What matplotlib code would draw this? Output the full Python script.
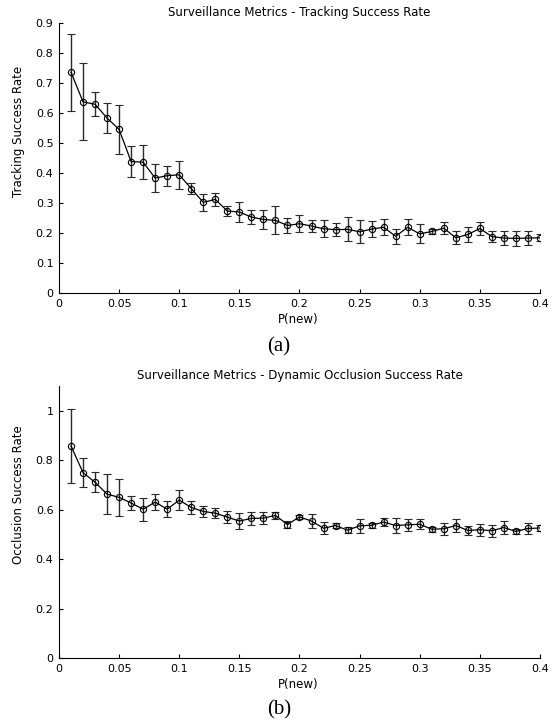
import numpy as np
import matplotlib
matplotlib.use("Agg")
import matplotlib.pyplot as plt

# P(new) values, shared by both panels
p_new = [0.01, 0.02, 0.03, 0.04, 0.05, 0.06, 0.07, 0.08, 0.09, 0.10,
         0.11, 0.12, 0.13, 0.14, 0.15, 0.16, 0.17, 0.18, 0.19, 0.20,
         0.21, 0.22, 0.23, 0.24, 0.25, 0.26, 0.27, 0.28, 0.29, 0.30,
         0.31, 0.32, 0.33, 0.34, 0.35, 0.36, 0.37, 0.38, 0.39, 0.40]

# (a) tracking success rate
track_mean = [0.736, 0.637, 0.629, 0.583, 0.545, 0.438, 0.436, 0.383, 0.391, 0.394,
              0.348, 0.302, 0.312, 0.273, 0.270, 0.253, 0.245, 0.242, 0.225, 0.231,
              0.223, 0.214, 0.211, 0.212, 0.204, 0.213, 0.219, 0.189, 0.219, 0.197,
              0.205, 0.216, 0.184, 0.195, 0.215, 0.188, 0.183, 0.182, 0.183, 0.184]
track_err = [0.128, 0.128, 0.040, 0.049, 0.081, 0.052, 0.057, 0.047, 0.033, 0.046,
             0.019, 0.028, 0.022, 0.016, 0.033, 0.022, 0.031, 0.047, 0.024, 0.028,
             0.020, 0.029, 0.021, 0.040, 0.038, 0.026, 0.026, 0.025, 0.027, 0.032,
             0.007, 0.021, 0.022, 0.024, 0.022, 0.018, 0.024, 0.024, 0.023, 0.011]

# (b) dynamic occlusion success rate
occl_mean = [0.858, 0.750, 0.711, 0.663, 0.650, 0.627, 0.602, 0.631, 0.602, 0.639,
             0.609, 0.593, 0.586, 0.570, 0.554, 0.565, 0.566, 0.577, 0.540, 0.571,
             0.554, 0.525, 0.536, 0.517, 0.535, 0.537, 0.550, 0.536, 0.539, 0.541,
             0.521, 0.523, 0.536, 0.516, 0.519, 0.515, 0.528, 0.512, 0.524, 0.526]
occl_err = [0.150, 0.058, 0.040, 0.082, 0.075, 0.030, 0.047, 0.034, 0.032, 0.040,
            0.028, 0.022, 0.021, 0.025, 0.032, 0.025, 0.025, 0.013, 0.015, 0.008,
            0.030, 0.024, 0.009, 0.012, 0.029, 0.010, 0.015, 0.029, 0.025, 0.020,
            0.011, 0.024, 0.028, 0.020, 0.025, 0.025, 0.027, 0.011, 0.021, 0.011]

x_ticks = [0, 0.05, 0.1, 0.15, 0.2, 0.25, 0.3, 0.35, 0.4]
x_labels = ["0", "0.05", "0.1", "0.15", "0.2", "0.25", "0.3", "0.35", "0.4"]
ya_ticks = [0, 0.1, 0.2, 0.3, 0.4, 0.5, 0.6, 0.7, 0.8, 0.9]
ya_labels = ["0", "0.1", "0.2", "0.3", "0.4", "0.5", "0.6", "0.7", "0.8", "0.9"]
yb_ticks = [0, 0.2, 0.4, 0.6, 0.8, 1.0]
yb_labels = ["0", "0.2", "0.4", "0.6", "0.8", "1"]

plt.rcParams['font.family'] = ['DejaVu Sans']

fig = plt.figure(figsize=(5.58, 7.25), dpi=100)
ax1 = fig.add_axes([0.1057, 0.5959, 0.862, 0.3724])
ax2 = fig.add_axes([0.1057, 0.0924, 0.862, 0.3750])


def panel(ax, mean, err, ylim, yt, yl, title, ylabel):
    ax.errorbar(p_new, mean, yerr=err, color='black', ecolor='#2a2a2a',
                elinewidth=1.0, capsize=3.2, capthick=1.0, linewidth=0.9,
                marker='o', markersize=4.5, markerfacecolor='none',
                markeredgecolor='black', markeredgewidth=0.8)
    ax.set_xlim(0, 0.4)
    ax.set_ylim(*ylim)
    ax.set_xticks(x_ticks)
    ax.set_xticklabels(x_labels)
    ax.set_yticks(yt)
    ax.set_yticklabels(yl)
    ax.spines['top'].set_visible(False)
    ax.spines['right'].set_visible(False)
    for s in ('left', 'bottom'):
        ax.spines[s].set_linewidth(0.8)
    ax.tick_params(direction='in', length=3, width=0.8, labelsize=8, pad=4)
    ax.set_title(title, fontsize=8.5, pad=5)
    ax.set_ylabel(ylabel, fontsize=8.5)
    ax.yaxis.set_label_coords(-0.07, 0.6)
    ax.set_xlabel("P(new)", fontsize=8.5)
    ax.xaxis.set_label_coords(0.497, -0.075)


panel(ax1, track_mean, track_err, (0, 0.9), ya_ticks, ya_labels,
      "Surveillance Metrics - Tracking Success Rate", "Tracking Success Rate")
panel(ax2, occl_mean, occl_err, (0, 1.1), yb_ticks, yb_labels,
      "Surveillance Metrics - Dynamic Occlusion Success Rate", "Occlusion Success Rate")

fig.text(0.5, 1 - 347 / 725, "(a)", ha='center', va='center',
         family='Liberation Serif', fontsize=15)
fig.text(0.5, 1 - 710 / 725, "(b)", ha='center', va='center',
         family='Liberation Serif', fontsize=15)

fig.savefig("out.png", dpi=100)
